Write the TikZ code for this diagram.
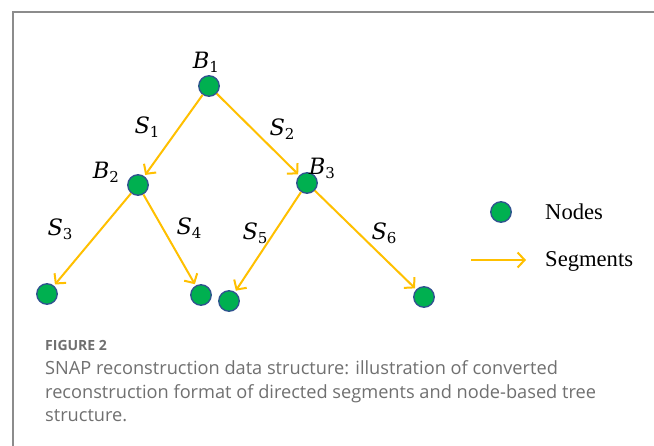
\documentclass[tikz,border=0pt]{standalone}
\usepackage{fontspec}
\setmainfont{Liberation Serif}
\newfontfamily\capfont{Open Sans}
\newfontfamily\symfont{DejaVu Serif}
\usetikzlibrary{arrows.meta}
\definecolor{nodegreen}{HTML}{00B050}
\definecolor{nodeblue}{HTML}{2F528F}
\definecolor{segyellow}{HTML}{FFC000}
\definecolor{framegray}{HTML}{8C8C8C}
\definecolor{capgray}{HTML}{707070}
\newcommand\symlbl[2]{{\symfont\itshape\fontsize{22.5}{24}\selectfont #1\/}\raisebox{-4pt}{\symfont\fontsize{15}{15}\selectfont #2}}
\begin{document}
\begin{tikzpicture}[x=1pt,y=-1pt,
  treenode/.style={circle, draw=nodeblue, fill=nodegreen, line width=1.3pt, minimum size=20.5pt, inner sep=0pt},
  seg/.style={draw=segyellow, line width=2pt, -{Straight Barb[length=7pt,width=15pt]}, shorten >=1.5pt},
  lab/.style={inner sep=0pt},
  legtext/.style={font=\fontsize{22.6}{24}\selectfont, inner sep=0pt, anchor=west},
  capfig/.style={font=\capfont\bfseries\fontsize{14}{16}\selectfont, text=capgray, inner sep=0pt, anchor=base west},
  captext/.style={font=\capfont\fontsize{18.2}{20}\selectfont, text=capgray, inner sep=0pt, anchor=base west}
]
\useasboundingbox (0,0) rectangle (654,446);
\fill[white] (0,0) rectangle (654,446);
\draw[framegray, line width=1.3pt] (13,446) -- (13,12) -- (654,12);

% tree nodes
\node[treenode] (b1) at (209,86) {};
\node[treenode] (b2) at (138,185) {};
\node[treenode] (b3) at (307,183) {};
\node[treenode] (l1) at (47,294) {};
\node[treenode] (l2) at (201,295) {};
\node[treenode] (l3) at (229,301) {};
\node[treenode] (l4) at (424,297) {};

% segments
\draw[seg] (b1) -- (b2);
\draw[seg] (b1) -- (b3);
\draw[seg] (b2) -- (l1);
\draw[seg] (b2) -- (l2);
\draw[seg] (b3) -- (l3);
\draw[seg] (b3) -- (l4);

% labels
\node[lab] (tb1) at (206,62) {\symlbl{B}{1}};
\node[lab] (tb2) at (106,172) {\symlbl{B}{2}};
\node[lab] (tb3) at (322,168) {\symlbl{B}{3}};
\node[lab] (ts1) at (147,127) {\symlbl{S}{1}};
\node[lab] (ts2) at (282,129) {\symlbl{S}{2}};
\node[lab] (ts3) at (60,229) {\symlbl{S}{3}};
\node[lab] (ts4) at (189,228) {\symlbl{S}{4}};
\node[lab] (ts5) at (255,233) {\symlbl{S}{5}};
\node[lab] (ts6) at (384,233) {\symlbl{S}{6}};

% legend
\node[treenode] (ln) at (501,212) {};
\node[legtext] (lnt) at (545,212) {Nodes};
\coordinate (la) at (471,260);
\coordinate (lb) at (526,260);
\draw[seg, shorten >=0pt] (la) -- (lb);
\node[legtext] (lst) at (545,261) {Segments};

% caption
\node[capfig] (fig) at (45,351) {FIGURE 2};
\node[captext] (c1) at (45,375) {SNAP reconstruction data structure: illustration of converted};
\node[captext] (c2) at (45,399) {reconstruction format of directed segments and node-based tree};
\node[captext] (c3) at (45,422) {structure.};
\end{tikzpicture}
\end{document}
